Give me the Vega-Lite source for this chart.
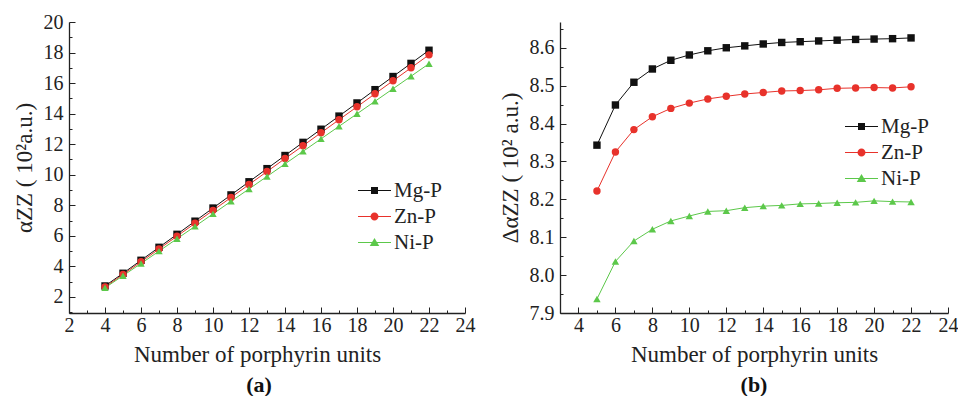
{
  "$schema": "https://vega.github.io/schema/vega-lite/v6.json",
  "background": "white",
  "padding": {"left": 13, "top": 12, "right": 0, "bottom": 0},
  "bounds": "flush",
  "spacing": 95,
  "config": {
    "view": {"stroke": null},
    "font": "Liberation Serif",
    "axis": {
      "labelFont": "Liberation Serif", "titleFont": "Liberation Serif",
      "labelFontSize": 20, "titleFontSize": 23, "titleFontWeight": "normal",
      "labelColor": "#222", "titleColor": "#222", "domainColor": "#222", "tickColor": "#222",
      "grid": false, "domainWidth": 1.3, "tickWidth": 1, "labelFlush": false, "labelOverlap": false
    },
    "legend": {
      "orient": "none", "title": null,
      "labelFont": "Liberation Serif", "labelFontSize": 21, "labelColor": "#222",
      "symbolSize": 100, "labelOffset": 9, "rowPadding": 4, "symbolOpacity": 1, "symbolStrokeWidth": 0
    }
  },
  "datasets": {
    "a": [
      {"n":4,"s":"Mg-P","v":2.72},{"n":5,"s":"Mg-P","v":3.55},{"n":6,"s":"Mg-P","v":4.40},{"n":7,"s":"Mg-P","v":5.25},{"n":8,"s":"Mg-P","v":6.10},{"n":9,"s":"Mg-P","v":6.96},{"n":10,"s":"Mg-P","v":7.82},{"n":11,"s":"Mg-P","v":8.68},{"n":12,"s":"Mg-P","v":9.54},{"n":13,"s":"Mg-P","v":10.40},{"n":14,"s":"Mg-P","v":11.26},{"n":15,"s":"Mg-P","v":12.12},{"n":16,"s":"Mg-P","v":12.98},{"n":17,"s":"Mg-P","v":13.84},{"n":18,"s":"Mg-P","v":14.70},{"n":19,"s":"Mg-P","v":15.57},{"n":20,"s":"Mg-P","v":16.43},{"n":21,"s":"Mg-P","v":17.29},{"n":22,"s":"Mg-P","v":18.15},
      {"n":4,"s":"Zn-P","v":2.65},{"n":5,"s":"Zn-P","v":3.47},{"n":6,"s":"Zn-P","v":4.30},{"n":7,"s":"Zn-P","v":5.14},{"n":8,"s":"Zn-P","v":5.98},{"n":9,"s":"Zn-P","v":6.82},{"n":10,"s":"Zn-P","v":7.67},{"n":11,"s":"Zn-P","v":8.51},{"n":12,"s":"Zn-P","v":9.36},{"n":13,"s":"Zn-P","v":10.21},{"n":14,"s":"Zn-P","v":11.06},{"n":15,"s":"Zn-P","v":11.90},{"n":16,"s":"Zn-P","v":12.75},{"n":17,"s":"Zn-P","v":13.60},{"n":18,"s":"Zn-P","v":14.45},{"n":19,"s":"Zn-P","v":15.30},{"n":20,"s":"Zn-P","v":16.15},{"n":21,"s":"Zn-P","v":17.00},{"n":22,"s":"Zn-P","v":17.85},
      {"n":4,"s":"Ni-P","v":2.60},{"n":5,"s":"Ni-P","v":3.39},{"n":6,"s":"Ni-P","v":4.19},{"n":7,"s":"Ni-P","v":5.00},{"n":8,"s":"Ni-P","v":5.81},{"n":9,"s":"Ni-P","v":6.62},{"n":10,"s":"Ni-P","v":7.44},{"n":11,"s":"Ni-P","v":8.26},{"n":12,"s":"Ni-P","v":9.07},{"n":13,"s":"Ni-P","v":9.89},{"n":14,"s":"Ni-P","v":10.71},{"n":15,"s":"Ni-P","v":11.53},{"n":16,"s":"Ni-P","v":12.35},{"n":17,"s":"Ni-P","v":13.17},{"n":18,"s":"Ni-P","v":13.99},{"n":19,"s":"Ni-P","v":14.81},{"n":20,"s":"Ni-P","v":15.63},{"n":21,"s":"Ni-P","v":16.45},{"n":22,"s":"Ni-P","v":17.27}
    ],
    "b": [
      {"n":5,"s":"Mg-P","v":8.343},{"n":6,"s":"Mg-P","v":8.449},{"n":7,"s":"Mg-P","v":8.509},{"n":8,"s":"Mg-P","v":8.544},{"n":9,"s":"Mg-P","v":8.567},{"n":10,"s":"Mg-P","v":8.581},{"n":11,"s":"Mg-P","v":8.592},{"n":12,"s":"Mg-P","v":8.600},{"n":13,"s":"Mg-P","v":8.605},{"n":14,"s":"Mg-P","v":8.610},{"n":15,"s":"Mg-P","v":8.614},{"n":16,"s":"Mg-P","v":8.616},{"n":17,"s":"Mg-P","v":8.618},{"n":18,"s":"Mg-P","v":8.620},{"n":19,"s":"Mg-P","v":8.622},{"n":20,"s":"Mg-P","v":8.623},{"n":21,"s":"Mg-P","v":8.624},{"n":22,"s":"Mg-P","v":8.626},
      {"n":5,"s":"Zn-P","v":8.222},{"n":6,"s":"Zn-P","v":8.325},{"n":7,"s":"Zn-P","v":8.384},{"n":8,"s":"Zn-P","v":8.418},{"n":9,"s":"Zn-P","v":8.440},{"n":10,"s":"Zn-P","v":8.454},{"n":11,"s":"Zn-P","v":8.465},{"n":12,"s":"Zn-P","v":8.472},{"n":13,"s":"Zn-P","v":8.478},{"n":14,"s":"Zn-P","v":8.482},{"n":15,"s":"Zn-P","v":8.486},{"n":16,"s":"Zn-P","v":8.487},{"n":17,"s":"Zn-P","v":8.489},{"n":18,"s":"Zn-P","v":8.493},{"n":19,"s":"Zn-P","v":8.494},{"n":20,"s":"Zn-P","v":8.495},{"n":21,"s":"Zn-P","v":8.494},{"n":22,"s":"Zn-P","v":8.497},
      {"n":5,"s":"Ni-P","v":7.937},{"n":6,"s":"Ni-P","v":8.036},{"n":7,"s":"Ni-P","v":8.090},{"n":8,"s":"Ni-P","v":8.121},{"n":9,"s":"Ni-P","v":8.143},{"n":10,"s":"Ni-P","v":8.156},{"n":11,"s":"Ni-P","v":8.168},{"n":12,"s":"Ni-P","v":8.170},{"n":13,"s":"Ni-P","v":8.178},{"n":14,"s":"Ni-P","v":8.182},{"n":15,"s":"Ni-P","v":8.184},{"n":16,"s":"Ni-P","v":8.188},{"n":17,"s":"Ni-P","v":8.189},{"n":18,"s":"Ni-P","v":8.191},{"n":19,"s":"Ni-P","v":8.192},{"n":20,"s":"Ni-P","v":8.196},{"n":21,"s":"Ni-P","v":8.194},{"n":22,"s":"Ni-P","v":8.193}
    ]
  },
  "resolve": {
    "scale": {"color": "independent", "shape": "independent"},
    "legend": {"color": "independent", "shape": "independent"}
  },
  "hconcat": [
    {
      "width": 396, "height": 291,
      "title": {"text": "(a)", "orient": "bottom", "anchor": "middle", "fontSize": 22, "fontWeight": "bold", "font": "Liberation Serif", "color": "#111", "offset": 9, "dx": -8},
      "data": {"name": "a"},
      "resolve": {"scale": {"color": "independent", "shape": "independent"}},
      "encoding": {
        "x": {"field": "n", "type": "quantitative",
          "scale": {"domain": [2, 24], "nice": false, "zero": false},
          "axis": {"title": "Number of porphyrin units", "titlePadding": 5, "titleX": 188,
            "values": [2,3,4,5,6,7,8,9,10,11,12,13,14,15,16,17,18,19,20,21,22,23,24],
            "labelExpr": "datum.value % 2 === 0 ? datum.label : ''",
            "tickSize": {"condition": {"test": "datum.value % 2 === 0", "value": -6}, "value": -3},
            "labelPadding": 8}},
        "y": {"field": "v", "type": "quantitative",
          "scale": {"domain": [0.95, 20], "nice": false, "zero": false},
          "axis": {"title": "αZZ ( 10²a.u.)", "titlePadding": 7,
            "values": [1,2,3,4,5,6,7,8,9,10,11,12,13,14,15,16,17,18,19,20],
            "labelExpr": "datum.value % 2 === 0 ? datum.label : ''",
            "tickSize": {"condition": {"test": "datum.value % 2 === 0", "value": -6}, "value": -3},
            "labelPadding": 12}}
      },
      "layer": [
        {"mark": {"type": "line", "strokeWidth": 1},
         "encoding": {"color": {"field": "s", "type": "nominal",
           "scale": {"domain": ["Mg-P", "Zn-P", "Ni-P"], "range": ["#111111", "#e8322b", "#5cc84a"]}, "legend": null}}},
        {"mark": {"type": "point", "filled": true, "opacity": 1, "size": 55},
         "encoding": {
           "color": {"field": "s", "type": "nominal",
             "scale": {"domain": ["Mg-P", "Zn-P", "Ni-P"], "range": ["#111111", "#e8322b", "#5cc84a"]}, "legend": null},
           "shape": {"field": "s", "type": "nominal",
             "scale": {"domain": ["Mg-P", "Zn-P", "Ni-P"], "range": ["square", "circle", "triangle-up"]}, "legend": null}}},
        {"mark": {"type": "point", "filled": true, "opacity": 0},
         "encoding": {
           "color": {"field": "s", "type": "nominal",
             "scale": {"domain": ["Mg-P", "Zn-P", "Ni-P"], "range": ["#111111", "#e8322b", "#5cc84a"]},
             "legend": {"legendX": 295, "legendY": 158}},
           "shape": {"field": "s", "type": "nominal",
             "scale": {"domain": ["Mg-P", "Zn-P", "Ni-P"], "range": [
               "M-3.3,-0.1H3.3V0.1H-3.3Z M-0.7,-0.7H0.7V0.7H-0.7Z",
               "M-3.3,-0.1H3.3V0.1H-3.3Z M-0.8,0A0.8,0.8 0 1,1 0.8,0A0.8,0.8 0 1,1 -0.8,0Z",
               "M-3.3,-0.1H3.3V0.1H-3.3Z M0,-0.9L0.95,0.7H-0.95Z"]},
             "legend": {"legendX": 295, "legendY": 158}}}}
      ]
    },
    {
      "width": 388, "height": 291,
      "title": {"text": "(b)", "orient": "bottom", "anchor": "middle", "fontSize": 22, "fontWeight": "bold", "font": "Liberation Serif", "color": "#111", "offset": 9},
      "data": {"name": "b"},
      "resolve": {"scale": {"color": "independent", "shape": "independent"}},
      "encoding": {
        "x": {"field": "n", "type": "quantitative",
          "scale": {"domain": [3, 24], "nice": false, "zero": false},
          "axis": {"title": "Number of porphyrin units", "titlePadding": 5,
            "values": [3,4,5,6,7,8,9,10,11,12,13,14,15,16,17,18,19,20,21,22,23,24],
            "labelExpr": "datum.value % 2 === 0 ? datum.label : ''",
            "tickSize": {"condition": {"test": "datum.value % 2 === 0", "value": -6}, "value": -3},
            "labelPadding": 8}},
        "y": {"field": "v", "type": "quantitative",
          "scale": {"domain": [7.9, 8.668], "nice": false, "zero": false},
          "axis": {"title": "ΔαZZ ( 10² a.u.)", "titlePadding": 7, "format": ".1f",
            "values": [7.9,7.95,8.0,8.05,8.1,8.15,8.2,8.25,8.3,8.35,8.4,8.45,8.5,8.55,8.6,8.65],
            "labelExpr": "round(datum.value * 100) % 10 === 0 ? datum.label : ''",
            "tickSize": {"condition": {"test": "round(datum.value * 100) % 10 === 0", "value": -6}, "value": -3},
            "labelPadding": 12}}
      },
      "layer": [
        {"mark": {"type": "line", "strokeWidth": 1},
         "encoding": {"color": {"field": "s", "type": "nominal",
           "scale": {"domain": ["Mg-P", "Zn-P", "Ni-P"], "range": ["#111111", "#e8322b", "#5cc84a"]}, "legend": null}}},
        {"mark": {"type": "point", "filled": true, "opacity": 1, "size": 55},
         "encoding": {
           "color": {"field": "s", "type": "nominal",
             "scale": {"domain": ["Mg-P", "Zn-P", "Ni-P"], "range": ["#111111", "#e8322b", "#5cc84a"]}, "legend": null},
           "shape": {"field": "s", "type": "nominal",
             "scale": {"domain": ["Mg-P", "Zn-P", "Ni-P"], "range": ["square", "circle", "triangle-up"]}, "legend": null}}},
        {"mark": {"type": "point", "filled": true, "opacity": 0},
         "encoding": {
           "color": {"field": "s", "type": "nominal",
             "scale": {"domain": ["Mg-P", "Zn-P", "Ni-P"], "range": ["#111111", "#e8322b", "#5cc84a"]},
             "legend": {"legendX": 291, "legendY": 94}},
           "shape": {"field": "s", "type": "nominal",
             "scale": {"domain": ["Mg-P", "Zn-P", "Ni-P"], "range": [
               "M-3.3,-0.1H3.3V0.1H-3.3Z M-0.7,-0.7H0.7V0.7H-0.7Z",
               "M-3.3,-0.1H3.3V0.1H-3.3Z M-0.8,0A0.8,0.8 0 1,1 0.8,0A0.8,0.8 0 1,1 -0.8,0Z",
               "M-3.3,-0.1H3.3V0.1H-3.3Z M0,-0.9L0.95,0.7H-0.95Z"]},
             "legend": {"legendX": 291, "legendY": 94}}}}
      ]
    }
  ]
}
